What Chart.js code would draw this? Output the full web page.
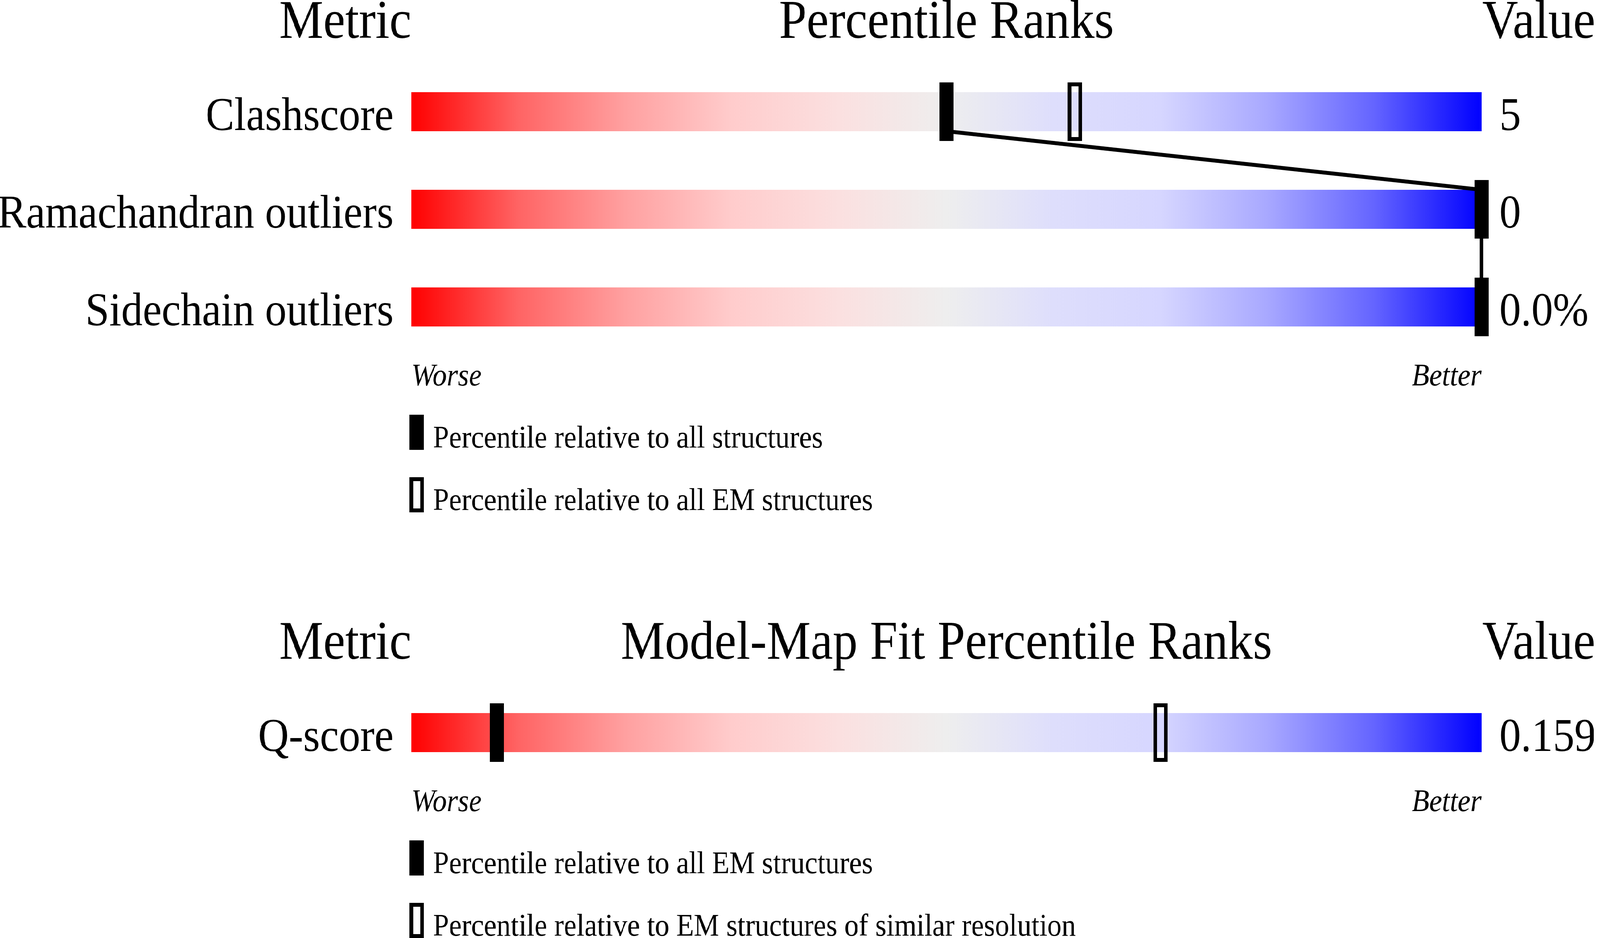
<!DOCTYPE html>
<html>
<head>
<meta charset="utf-8">
<script src="https://cdn.jsdelivr.net/npm/chart.js@4.4.1/dist/chart.umd.min.js"></script>
<style>
  html, body { margin: 0; padding: 0; background: #fff; width: 100%; height: 100%; overflow: hidden; }
  #page { position: absolute; left: 0; top: 0; width: 4485px; height: 2402px; transform-origin: 0 0; }
  canvas { position: absolute; left: 0; }
  #top { top: 0; }
  #fit { top: 1400px; }
</style>
</head>
<body>
<div id="page">
  <canvas id="top" width="4485" height="1400"></canvas>
  <canvas id="fit" width="4485" height="1002"></canvas>
</div>
<script>
  // geometry panel
  var topMetrics = ['Clashscore', 'Ramachandran outliers', 'Sidechain outliers'];
  var topValues = ['5', '0', '0.0%'];
  var topAllPct = [50, 100, 100];     // relative to all structures
  var topEmPct = [62, null, null];    // relative to all EM structures
  var topKeys = ['Percentile relative to all structures', 'Percentile relative to all EM structures'];

  // model-map fit panel
  var fitMetrics = ['Q-score'];
  var fitValues = ['0.159'];
  var fitAllEmPct = [8];              // relative to all EM structures
  var fitSimResPct = [70];            // relative to EM structures of similar resolution
  var fitKeys = ['Percentile relative to all EM structures', 'Percentile relative to EM structures of similar resolution'];

  var barRange = [0, 100];

  var gradStops = [
    [0, '#ff0000'], [0.1, '#ff6464'], [0.2, '#ffa0a0'], [0.3, '#ffcccc'], [0.4, '#fbe0e0'],
    [0.5, '#eeeeee'], [0.6, '#dedefc'], [0.7, '#d6d6ff'], [0.8, '#a8a8ff'], [0.9, '#6464ff'], [1, '#0000ff']
  ];

  var SERIF = '"Liberation Serif", "Times New Roman", serif';

  // the drawing is laid out on a 4485x2402 sheet, stretched to fill the real window
  var sx = (window.innerWidth || 4485) / 4485;
  var sy = (window.innerHeight || 2402) / 2402;
  document.getElementById('page').style.transform = 'scale(' + sx + ',' + sy + ')';

  function markerCanvas(w, h, hollow) {
    var c = document.createElement('canvas');
    c.width = w;
    c.height = h;
    var g = c.getContext('2d');
    if (hollow) {
      g.lineWidth = 10;
      g.strokeStyle = '#000';
      g.strokeRect(5, 5, w - 10, h - 10);
    } else {
      g.fillStyle = '#000';
      g.fillRect(0, 0, w, h);
    }
    return c;
  }
  var solidMark = markerCanvas(40, 150, false);
  var hollowMark = markerCanvas(40, 150, true);
  var solidKey = markerCanvas(40, 90, false);
  var hollowKey = markerCanvas(40, 90, true);

  function sliderFill(context) {
    var chart = context.chart;
    if (!chart.chartArea) return '#eeeeee';
    var x = chart.scales.x;
    var g = chart.ctx.createLinearGradient(x.getPixelForValue(0), 0, x.getPixelForValue(100), 0);
    gradStops.forEach(function (s) { g.addColorStop(s[0], s[1]); });
    return g;
  }

  function points(metrics, pct) {
    var out = [];
    for (var i = 0; i < metrics.length; i++) {
      if (pct[i] !== null) out.push({ x: pct[i], y: metrics[i] });
    }
    return out;
  }

  function panelText(title, keys) {
    return {
      id: 'panelText',
      afterDatasetDraw: function (chart, args) {
        if (args.index !== 0) return;
        // line joining the solid markers, over the bars and under the markers
        var bars = chart.getDatasetMeta(0).data;
        var pts = chart.data.datasets[1].data;
        if (pts.length < 2) return;
        var x = chart.scales.x, ctx = chart.ctx;
        ctx.save();
        ctx.strokeStyle = '#000';
        ctx.lineWidth = 10;
        ctx.beginPath();
        for (var i = 0; i < pts.length; i++) {
          var b = bars[i];
          var px = x.getPixelForValue(pts[i].x);
          if (i === 0) ctx.moveTo(px, b.y + b.height / 2);
          else {
            ctx.lineTo(px, b.y - b.height / 2);
            ctx.lineTo(px, b.y + b.height / 2);
          }
        }
        ctx.stroke();
        ctx.restore();
      },
      afterDraw: function (chart) {
        var a = chart.chartArea, ctx = chart.ctx;
        var bars = chart.getDatasetMeta(0).data;
        var first = bars[0], last = bars[bars.length - 1];
        var firstTop = first.y - first.height / 2;
        var lastBottom = last.y + last.height / 2;
        ctx.save();
        ctx.fillStyle = '#000';
        ctx.textBaseline = 'alphabetic';
        ctx.font = '139px ' + SERIF;
        ctx.textAlign = 'right';
        ctx.fillText('Metric', a.left, firstTop - 139);
        ctx.textAlign = 'center';
        ctx.fillText(title, (a.left + a.right) / 2, firstTop - 139);
        ctx.textAlign = 'left';
        ctx.fillText('Value', a.right + 2, firstTop - 139);

        ctx.font = 'italic 80px ' + SERIF;
        ctx.textAlign = 'left';
        ctx.fillText('Worse', a.left, lastBottom + 151);
        ctx.textAlign = 'right';
        ctx.fillText('Better', a.right, lastBottom + 151);

        ctx.font = '80px ' + SERIF;
        ctx.textAlign = 'left';
        keys.forEach(function (k, i) {
          var top = lastBottom + 226 + i * 160;
          ctx.drawImage(i === 0 ? solidKey : hollowKey, a.left - 5, top);
          ctx.fillText(k, a.left + 61, top + 84);
        });
        ctx.restore();
      }
    };
  }

  function slider(id, metrics, values, solidPct, hollowPct, title, keys, padTop, padBottom) {
    var tickFont = { family: SERIF, size: 120 };
    return new Chart(document.getElementById(id), {
      type: 'bar',
      data: {
        labels: metrics,
        datasets: [{
          type: 'bar',
          data: metrics.map(function () { return barRange; }),
          backgroundColor: sliderFill,
          borderWidth: 0,
          barPercentage: 0.4,
          categoryPercentage: 1,
          xAxisID: 'x', yAxisID: 'y',
          order: 3
        }, {
          type: 'scatter',
          data: points(metrics, solidPct),
          pointStyle: solidMark,
          pointRadius: 20,
          clip: false,
          xAxisID: 'x', yAxisID: 'y',
          order: 1
        }, {
          type: 'scatter',
          data: points(metrics, hollowPct),
          pointStyle: hollowMark,
          pointRadius: 20,
          clip: false,
          xAxisID: 'x', yAxisID: 'y',
          order: 2
        }]
      },
      options: {
        indexAxis: 'y',
        responsive: false,
        animation: false,
        devicePixelRatio: 1,
        events: [],
        layout: { padding: { top: padTop, bottom: padBottom, left: 0, right: 0 } },
        scales: {
          x: { type: 'linear', min: 0, max: 100, display: false },
          y: {
            type: 'category',
            position: 'left',
            offset: true,
            grid: { display: false, drawTicks: false },
            border: { display: false },
            ticks: { padding: 50, labelOffset: 15, color: '#000', font: tickFont },
            afterFit: function (s) { s.width = 1153; }
          },
          y2: {
            type: 'category',
            labels: values,
            position: 'right',
            offset: true,
            grid: { display: false, drawTicks: false },
            border: { display: false },
            ticks: { padding: 50, labelOffset: 15, color: '#000', font: tickFont },
            afterFit: function (s) { s.width = 332; }
          }
        },
        plugins: {
          legend: { display: false },
          tooltip: { enabled: false }
        }
      },
      plugins: [panelText(title, keys)]
    });
  }

  slider('top', topMetrics, topValues, topAllPct, topEmPct, 'Percentile Ranks', topKeys, 161, 489);
  slider('fit', fitMetrics, fitValues, fitAllEmPct, fitSimResPct, 'Model-Map Fit Percentile Ranks', fitKeys, 351, 401);
</script>
</body>
</html>
